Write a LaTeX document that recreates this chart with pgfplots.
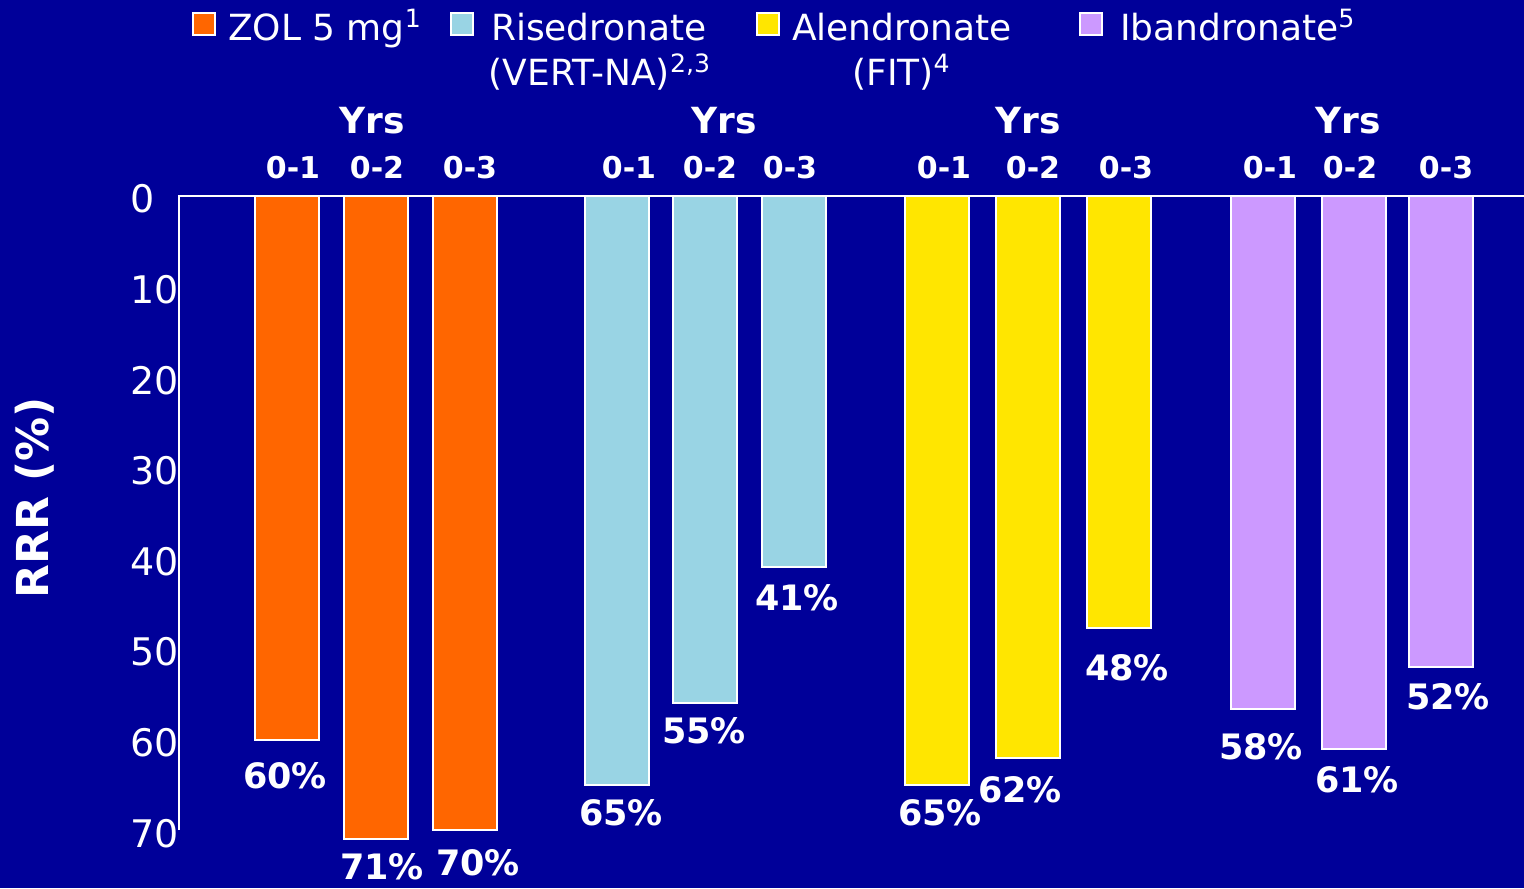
\documentclass[border=0pt]{standalone}
\usepackage{fontspec}
\setmainfont{DejaVu Sans}
\usepackage{pgfplots}
\pgfplotsset{compat=1.18}
\definecolor{bgblue}{RGB}{0,0,153}
\definecolor{zol}{RGB}{255,102,0}
\definecolor{ris}{RGB}{153,212,228}
\definecolor{ale}{RGB}{255,230,0}
\definecolor{iba}{RGB}{204,153,255}
\begin{document}
\begin{tikzpicture}
\fill[bgblue] (0,0) rectangle (762pt,444pt);
\begin{axis}[
  at={(89.5pt,346pt)}, anchor=north west,
  scale only axis, width=672.5pt, height=317.1pt,
  xmin=179, xmax=1524, ymin=0, ymax=70, y dir=reverse,
  clip=false,
  axis line style={draw=none},
  xtick=\empty,
  ytick={0,10,...,70},
  major tick length=0pt,
  /pgf/number format/assume math mode=true,
  yticklabel style={font=\fontsize{19}{22}\selectfont, text=white, anchor=west, inner sep=0pt, xshift=-24.5pt, yshift=-1.5pt},
  ylabel={RRR (\%)},
  ylabel style={at={(axis description cs:-0.1071,0.5238)}, anchor=center, font=\bfseries\fontsize{22}{26}\selectfont, text=white},
  ybar, bar width=64, bar shift=0pt,
  every axis plot/.append style={draw=white, line width=1pt},
  legend columns=4,
  legend cell align=left,
  legend image code/.code={\draw[#1, draw=white, line width=1pt] (0pt,-2.5pt) rectangle (11pt,8.5pt);},
  legend style={at={(axis description cs:0.00967,1.2901)}, anchor=north west, draw=none, fill=none, inner sep=0pt, outer sep=0pt, text=white, font=\fontsize{18}{21}\selectfont, nodes={inner sep=0pt, text height=14pt, text depth=4pt}, /tikz/every odd column/.style={column sep=6pt}, /tikz/every even column/.style={column sep=0pt}},
]
\addplot[fill=zol] coordinates {(286.5,60) (375.5,71) (464.5,70)};
\addlegendentry{\makebox[111pt][l]{ZOL 5 mg\textsuperscript{1}}}
\addplot[fill=ris] coordinates {(617,65) (705,56) (794,41)};
\addlegendentry{\makebox[135pt][l]{\hspace{2.5pt}Risedronate}}
\addplot[fill=ale] coordinates {(937,65) (1028,62) (1119,47.7)};
\addlegendentry{\makebox[143.5pt][l]{Alendronate}}
\addplot[fill=iba] coordinates {(1262.5,56.6) (1354,61) (1441,52)};
\addlegendentry{\hspace{2.5pt}Ibandronate\textsuperscript{5}}

\draw[white, line width=1pt] (axis cs:1524,0) -- (axis cs:179,0) -- (axis cs:179,70);

\begin{scope}[every node/.style={text=white, font=\fontsize{18}{21}\selectfont}]
\node[anchor=base] at (axis cs:600,-12.25) {(VERT-NA)\textsuperscript{2,3}};
\node[anchor=base] at (axis cs:901.5,-12.25) {(FIT)\textsuperscript{4}};
\end{scope}

\begin{scope}[every node/.style={text=white, font=\bfseries\fontsize{18}{21}\selectfont}]
\node at (axis cs:372,-8.28) {Yrs};
\node at (axis cs:724,-8.28) {Yrs};
\node at (axis cs:1028,-8.28) {Yrs};
\node at (axis cs:1348,-8.28) {Yrs};
\end{scope}

\begin{scope}[every node/.style={text=white, font=\bfseries\fontsize{15}{18}\selectfont}]
\node at (axis cs:293,-3.09) {0-1};
\node at (axis cs:377,-3.09) {0-2};
\node at (axis cs:470,-3.09) {0-3};
\node at (axis cs:629,-3.09) {0-1};
\node at (axis cs:710,-3.09) {0-2};
\node at (axis cs:790,-3.09) {0-3};
\node at (axis cs:944,-3.09) {0-1};
\node at (axis cs:1033,-3.09) {0-2};
\node at (axis cs:1126,-3.09) {0-3};
\node at (axis cs:1270,-3.09) {0-1};
\node at (axis cs:1350,-3.09) {0-2};
\node at (axis cs:1446,-3.09) {0-3};
\end{scope}

\begin{scope}[every node/.style={text=white, font=\bfseries\fontsize{17.5}{21}\selectfont}]
\node at (axis cs:285,64.0) {60\%};
\node at (axis cs:382,74.0) {71\%};
\node at (axis cs:478,73.6) {70\%};
\node at (axis cs:621,68.1) {65\%};
\node at (axis cs:704,59.05) {55\%};
\node at (axis cs:797,44.37) {41\%};
\node at (axis cs:940,68.1) {65\%};
\node at (axis cs:1020,65.56) {62\%};
\node at (axis cs:1127,52.1) {48\%};
\node at (axis cs:1261,60.8) {58\%};
\node at (axis cs:1357,64.46) {61\%};
\node at (axis cs:1448,55.3) {52\%};
\end{scope}
\end{axis}
\pgfresetboundingbox
\path[use as bounding box] (0,0) rectangle (762pt,444pt);
\end{tikzpicture}
\end{document}
